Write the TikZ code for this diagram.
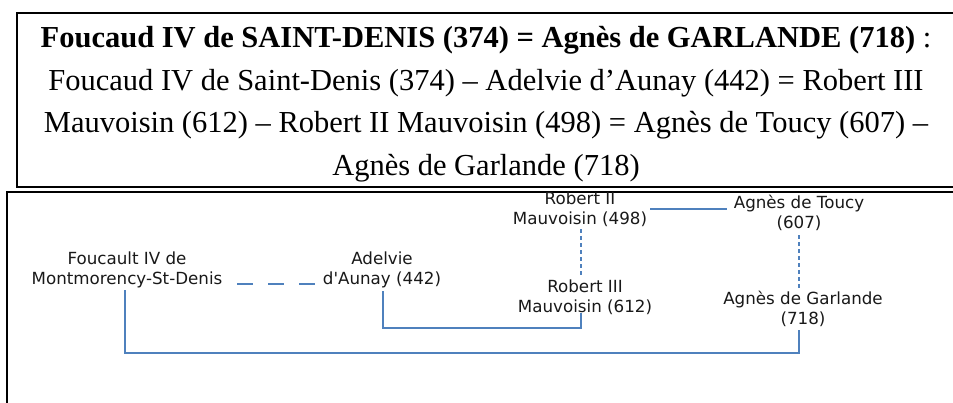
\documentclass[tikz,border=0pt]{standalone}
\usepackage{fontspec}
\setmainfont{Liberation Serif}
\newfontfamily\dejavu{DejaVu Sans}
\definecolor{linkblue}{RGB}{79,129,189}
\tikzset{
  person/.style={font=\dejavu\fontsize{16.7}{20}\selectfont, align=center, inner sep=0pt, text=black!90},
  link/.style={draw=linkblue, line width=1.5pt},
  marriage/.style={link, dash pattern=on 16pt off 15pt},
  descent/.style={link, dash pattern=on 4pt off 3pt},
}
\begin{document}
\begin{tikzpicture}[x=1pt,y=-1pt]
\useasboundingbox (0,0) rectangle (953,402);
\fill[white] (0,0) rectangle (953,402);
% boxes
\draw[line width=2pt] (960,13) -- (17,13) -- (17,187) -- (960,187);
\draw[line width=2pt] (960,192) -- (7,192) -- (7,410);
% title
\node[font=\fontsize{30.5}{42.5}\selectfont, align=center, inner sep=0pt] (title) at (486,104)
 {\textbf{Foucaud IV de SAINT-DENIS (374) = Agnès de GARLANDE (718)} :\\
  Foucaud IV de Saint-Denis (374) – Adelvie d’Aunay (442) = Robert III\\
  Mauvoisin (612) – Robert II Mauvoisin (498) = Agnès de Toucy (607) –\\
  Agnès de Garlande (718)};
% persons
\node[person] (fou) at (127,270) {Foucault IV de\\Montmorency-St-Denis};
\node[person] (ade) at (382,270) {Adelvie\\d'Aunay (442)};
\node[person] (rob2) at (580,209) {Robert II\\Mauvoisin (498)};
\node[person] (tou) at (799,213) {Agnès de Toucy\\(607)};
\node[person] (rob3) at (585,297) {Robert III\\Mauvoisin (612)};
\node[person] (gar) at (803,309) {Agnès de Garlande\\(718)};
% helper coordinates
\coordinate (m1a) at (237,284);
\coordinate (m1b) at (316,284);
\coordinate (m2a) at (650,209);
\coordinate (m2b) at (727,209);
\coordinate (d1a) at (581,229);
\coordinate (d1b) at (581,276);
\coordinate (d2a) at (799,235);
\coordinate (d2b) at (799,289);
\coordinate (a1) at (383,291);
\coordinate (a2) at (581,313);
\coordinate (f1) at (125,290);
\coordinate (f2) at (799,330);
% connectors
\draw[marriage] (m1a) -- (m1b);
\draw[link] (m2a) -- (m2b);
\draw[descent] (d1a) -- (d1b);
\draw[descent] (d2a) -- (d2b);
\draw[link] (a1) |- (581,328) -- (a2);
\draw[link] (f1) |- (799,353) -- (f2);
\end{tikzpicture}
\end{document}
